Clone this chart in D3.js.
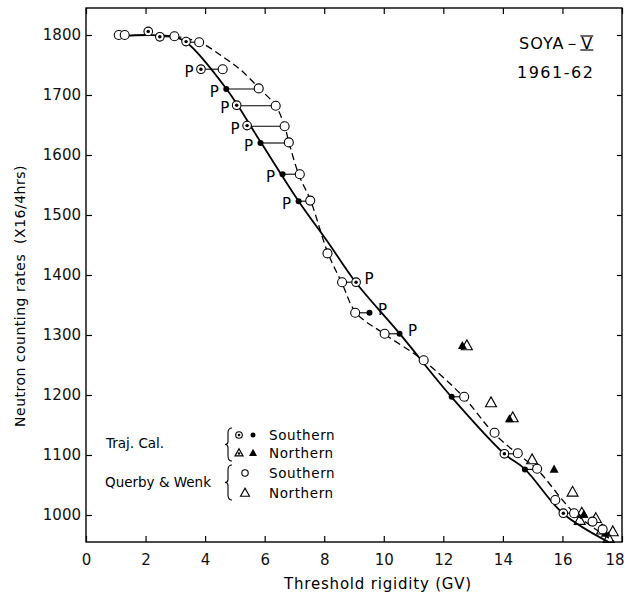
<!DOCTYPE html>
<html><head><meta charset="utf-8">
<script src="https://cdn.jsdelivr.net/npm/d3@7"></script>
<style>body{margin:0;background:#fff}</style>
</head><body><svg id="c" width="624" height="597"></svg>
<script>
const xTicks = [0, 2, 4, 6, 8, 10, 12, 14, 16, 18];
const yTicks = [1000, 1100, 1200, 1300, 1400, 1500, 1600, 1700, 1800];
const xTitle = "Threshold rigidity (GV)";
const yTitle = "Neutron counting rates  (X16/4hrs)";
const noteLines = ["SOYA－", "V", "1961-62"];

// Trajectory calculation, southern (circled dot)
const trajSouthCircled = [[2.09,1806],[2.48,1797],[3.36,1789],[3.86,1743],[5.06,1683],[5.41,1649],[9.07,1388],[14.05,1102],[16.03,1003]];
// Trajectory calculation, southern (filled dot)
const trajSouthFilled = [[4.71,1710],[5.86,1620],[6.60,1568],[7.14,1523],[9.52,1337],[10.53,1302],[12.28,1197],[14.74,1076]];
// Trajectory calculation, northern (filled triangle)
const trajNorthFilled = [[12.64,1282],[14.22,1160],[15.72,1076],[16.72,1001],[17.44,969]];
// Querby & Wenk, southern (open circle)
const qwSouth = [[1.10,1800],[1.30,1800],[2.97,1798],[3.80,1788],[4.59,1743],[5.80,1711],[6.37,1682],[6.67,1648],[6.81,1621],[7.18,1568],[7.53,1524],[8.11,1436],[8.60,1388],[9.04,1337],[10.03,1302],[11.34,1258],[12.70,1197],[13.72,1137],[14.50,1103],[15.15,1077],[15.76,1025],[16.39,1003],[17.01,989],[17.35,976]];
// Querby & Wenk, northern (open triangle)
const qwNorth = [[12.79,1282],[13.60,1187],[14.33,1162],[14.98,1092],[16.34,1038],[16.65,1003],[16.58,991],[17.12,994],[17.33,975],[17.69,972],[17.55,961]];
// Solid curve (trajectory)
const trajCurve = [[1.11,1798],[2.09,1800],[2.97,1797],[3.37,1788],[4.72,1710],[5.86,1622],[7.14,1523],[8.12,1455],[9.07,1387],[10.52,1303],[12.27,1197],[14.05,1102],[14.73,1077],[16.01,1003],[17.55,955]];
// Dashed curve (Querby & Wenk)
const qwCurve = [[2.97,1798],[3.81,1788],[4.62,1763],[5.19,1742],[5.80,1712],[6.37,1682],[6.67,1648],[6.81,1622],[7.14,1568],[7.55,1523],[8.12,1437],[8.59,1387],[9.07,1337],[10.01,1302],[11.32,1258],[12.67,1197],[13.68,1137],[14.49,1102],[15.13,1077],[16.41,1003],[17.73,956]];
// Horizontal connectors between paired points: [x1, x2, y]
const pairs = [[2.48,2.97,1797],[3.36,3.80,1788],[3.86,4.59,1743],[4.71,5.80,1710],[5.06,6.37,1682],[5.41,6.67,1648],[5.86,6.81,1620],[6.60,7.18,1568],[7.14,7.53,1523],[8.60,9.07,1388],[9.04,9.52,1337],[10.03,10.53,1302],[12.28,12.70,1197],[14.05,14.50,1102],[14.74,15.15,1076],[16.03,16.39,1003]];
// "P" markers: [x, y, side]
const pMarks = [[3.86,1743,"L"],[4.71,1710,"L"],[5.06,1683,"L"],[5.41,1649,"L"],[5.86,1620,"L"],[6.60,1568,"L"],[7.14,1523,"L"],[9.07,1388,"R"],[9.52,1337,"R"],[10.53,1302,"R"]];
const legendGroups = ["Traj. Cal.", "Querby & Wenk"];
const legendItems = ["Southern", "Northern"];

const FONT = "'DejaVu Sans', sans-serif";
const svg = d3.select("#c");
const L = 86, R = 622, T = 8, B = 542;
const x = d3.scaleLinear().domain([0, 18]).range([L, R]);
const y = d3.scaleLinear().domain([955, 1845]).range([B, T]);

// frame
svg.append("rect").attr("x", L).attr("y", T).attr("width", R - L).attr("height", B - T)
  .attr("fill", "none").attr("stroke", "#000").attr("stroke-width", 1.4);

// axes (ticks inward)
const gB = svg.append("g").attr("transform", `translate(0,${B})`)
  .call(d3.axisBottom(x).tickValues(xTicks).tickSizeInner(-6).tickSizeOuter(0).tickPadding(12).tickFormat(d3.format("d")));
const gT = svg.append("g").attr("transform", `translate(0,${T})`)
  .call(d3.axisTop(x).tickValues(xTicks).tickSizeInner(-6).tickSizeOuter(0).tickFormat(""));
const gL = svg.append("g").attr("transform", `translate(${L},0)`)
  .call(d3.axisLeft(y).tickValues(yTicks).tickSizeInner(-6).tickSizeOuter(0).tickPadding(5).tickFormat(d3.format("d")));
const gR = svg.append("g").attr("transform", `translate(${R},0)`)
  .call(d3.axisRight(y).tickValues(yTicks).tickSizeInner(-5).tickSizeOuter(0).tickFormat(""));
[gB, gT, gL, gR].forEach(g => {
  g.select(".domain").remove();
  g.selectAll("line").attr("stroke", "#000").attr("stroke-width", 1.2);
  g.selectAll("text").attr("font-family", FONT).attr("font-size", 15).attr("fill", "#111");
});
gL.selectAll("text").attr("x", -5);
gB.selectAll(".tick").filter(d => d === 18).select("text").attr("text-anchor", "end").attr("dx", 2);

// titles
svg.append("text").attr("x", 378).attr("y", 589).attr("text-anchor", "middle")
  .attr("font-family", FONT).attr("font-size", 15).attr("letter-spacing", 0.8).text(xTitle);
svg.append("text").attr("transform", "translate(25,296) rotate(-90)").attr("text-anchor", "middle")
  .attr("font-family", FONT).attr("font-size", 14).attr("letter-spacing", 0.5).attr("xml:space", "preserve").text(yTitle);
const note = svg.append("text").attr("x", 519).attr("y", 49).attr("font-family", FONT).attr("font-size", 16).attr("letter-spacing", 1);
note.append("tspan").text(noteLines[0]);
const vSpan = note.append("tspan").text(noteLines[1]);
svg.append("text").attr("x", 517).attr("y", 78).attr("font-family", FONT).attr("font-size", 16).attr("letter-spacing", 1.5).text(noteLines[2]);
// bars of the Roman numeral V
const nb = note.node().getBBox();
const vx1 = nb.x + nb.width - 13, vx2 = nb.x + nb.width;
[nb.y + 2, nb.y + nb.height - 3].forEach(yy => {
  svg.append("line").attr("x1", vx1).attr("x2", vx2).attr("y1", yy).attr("y2", yy).attr("stroke", "#000").attr("stroke-width", 1.2);
});

// curves
const line = d3.line().x(d => x(d[0])).y(d => y(d[1])).curve(d3.curveCatmullRom.alpha(0.5));
svg.append("path").attr("d", line(trajCurve)).attr("fill", "none").attr("stroke", "#000").attr("stroke-width", 1.8);
svg.append("path").attr("d", line(qwCurve)).attr("fill", "none").attr("stroke", "#000").attr("stroke-width", 1.3)
  .attr("stroke-dasharray", "7,4");

// connectors
svg.append("g").selectAll("line").data(pairs).join("line")
  .attr("x1", d => x(d[0])).attr("x2", d => x(d[1])).attr("y1", d => y(d[2])).attr("y2", d => y(d[2]))
  .attr("stroke", "#000").attr("stroke-width", 1.1);

// symbols
function tri(cx, cy, s) {
  const h = s * 0.9;
  return `M${cx},${cy - h * 0.6}L${cx + s / 2},${cy + h * 0.4}L${cx - s / 2},${cy + h * 0.4}Z`;
}
function drawOpenCircle(g, cx, cy, r) {
  g.append("circle").attr("cx", cx).attr("cy", cy).attr("r", r).attr("fill", "#fff").attr("stroke", "#000").attr("stroke-width", 1.1);
}
function drawCircled(g, cx, cy, r) {
  drawOpenCircle(g, cx, cy, r);
  g.append("circle").attr("cx", cx).attr("cy", cy).attr("r", r * 0.4).attr("fill", "#000");
}
const gm = svg.append("g");
qwNorth.forEach(d => gm.append("path").attr("d", tri(x(d[0]), y(d[1]), 11)).attr("fill", "none").attr("stroke", "#000").attr("stroke-width", 1.1));
trajNorthFilled.forEach(d => gm.append("path").attr("d", tri(x(d[0]), y(d[1]), 9)).attr("fill", "#000"));
qwSouth.forEach(d => drawOpenCircle(gm, x(d[0]), y(d[1]), 4.5));
trajSouthCircled.forEach(d => drawCircled(gm, x(d[0]), y(d[1]), 4.3));
trajSouthFilled.forEach(d => gm.append("circle").attr("cx", x(d[0])).attr("cy", y(d[1])).attr("r", 3).attr("fill", "#000"));

// P labels
svg.append("g").selectAll("text").data(pMarks).join("text")
  .attr("x", d => d[2] === "L" ? x(d[0]) - 12 : x(d[0]) + 13)
  .attr("y", d => d[2] === "L" ? y(d[1]) + 8 : y(d[1]) + 2)
  .attr("text-anchor", "middle").attr("font-family", FONT).attr("font-size", 15).text("P");

// legend
function brace(xb, y0, y1) {
  const ym = (y0 + y1) / 2;
  return `M${xb + 4},${y0} Q${xb},${y0} ${xb},${y0 + 5} L${xb},${ym - 3} Q${xb},${ym} ${xb - 3},${ym} Q${xb},${ym} ${xb},${ym + 3} L${xb},${y1 - 5} Q${xb},${y1} ${xb + 4},${y1}`;
}
const lg = svg.append("g");
lg.append("path").attr("d", brace(228, 428, 461)).attr("fill", "none").attr("stroke", "#000").attr("stroke-width", 1.1);
lg.append("path").attr("d", brace(228, 465, 500)).attr("fill", "none").attr("stroke", "#000").attr("stroke-width", 1.1);
lg.append("text").attr("x", 106).attr("y", 448).attr("font-family", FONT).attr("font-size", 13.5).text(legendGroups[0]);
lg.append("text").attr("x", 105).attr("y", 487).attr("font-family", FONT).attr("font-size", 13.5).text(legendGroups[1]);
[[440, legendItems[0]], [458, legendItems[1]], [478, legendItems[0]], [498, legendItems[1]]].forEach(([yy, t]) => {
  lg.append("text").attr("x", 269).attr("y", yy).attr("font-family", FONT).attr("font-size", 13.5).attr("letter-spacing", 0.6).text(t);
});
drawCircled(lg, 239, 435, 3.3);
lg.append("circle").attr("cx", 253).attr("cy", 435).attr("r", 2.5).attr("fill", "#000");
lg.append("path").attr("d", tri(239, 453, 8)).attr("fill", "none").attr("stroke", "#000").attr("stroke-width", 1.2);
lg.append("circle").attr("cx", 239).attr("cy", 453.5).attr("r", 1.3).attr("fill", "#000");
lg.append("path").attr("d", tri(253, 453, 8)).attr("fill", "#000");
drawOpenCircle(lg, 245, 473, 3.2);
lg.append("path").attr("d", tri(245, 493, 9)).attr("fill", "none").attr("stroke", "#000").attr("stroke-width", 1.1);
</script></body></html>
